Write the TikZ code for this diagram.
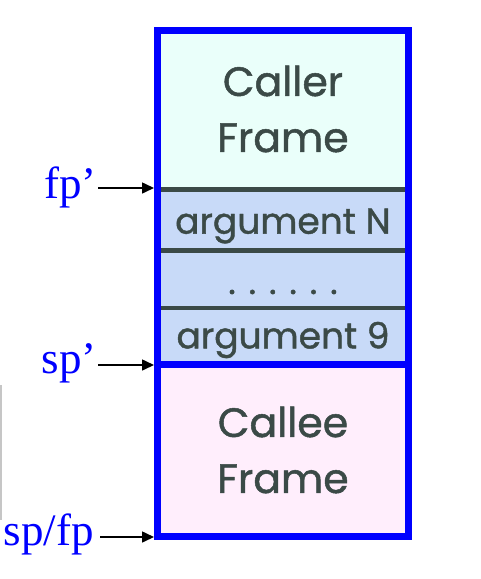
\documentclass[tikz,border=0pt]{standalone}
\usepackage{fontspec}
\setmainfont{Liberation Serif}
\newfontfamily\boxfont[FakeBold=1.2]{Poppins}
\usetikzlibrary{arrows.meta}
\definecolor{framecol}{RGB}{0,0,255}
\definecolor{divcol}{RGB}{59,74,71}
\definecolor{callercol}{RGB}{234,255,250}
\definecolor{argcol}{RGB}{200,218,248}
\definecolor{calleecol}{RGB}{255,238,252}
\tikzset{
  boxtext/.style={text=divcol, font=\boxfont\fontsize{36}{42}\selectfont, align=center, inner sep=0pt},
  bigtext/.style={text=divcol, font=\boxfont\fontsize{41}{56}\selectfont, align=center, inner sep=0pt},
  ptrlabel/.style={text=framecol, font=\fontsize{45}{46}\selectfont, inner sep=0pt, anchor=base east},
  ptrarrow/.style={-{Triangle[length=12pt,width=11pt]}, line width=1.6pt, black},
  divider/.style={divcol, line width=4.5pt},
}
\begin{document}
\begin{tikzpicture}[x=1pt,y=-1pt]
\useasboundingbox (0,0) rectangle (481,579);
% fills
\fill[callercol] (157.5,30) rectangle (408.5,189.5);
\fill[argcol] (157.5,189.5) rectangle (408.5,364.5);
\fill[calleecol] (157.5,364.5) rectangle (408.5,536.5);
% dividers
\draw[divider] (157.5,189.5) -- (408.5,189.5);
\draw[divider] (157.5,250.5) -- (408.5,250.5);
\draw[divider] (157.5,308) -- (408.5,308);
\draw[framecol, line width=7pt] (157.5,364.5) -- (408.5,364.5);
\draw[framecol, line width=7pt] (157.5,30) rectangle (408.5,536.5);
% texts
\node[bigtext] (caller) at (283,109) {Caller\\Frame};
\node[boxtext] (argN) at (283,226) {argument N};
\node[boxtext] (dots) at (283,292) {. . . . . .};
\node[boxtext] (arg9) at (283,340) {argument 9};
\node[bigtext] (callee) at (283,450) {Callee\\Frame};
% pointer anchors
\coordinate (fpA) at (154,188);
\coordinate (spA) at (154,365);
\coordinate (spfpA) at (154,537);
\node[ptrlabel] (fp) at (97,198) {fp’};
\node[ptrlabel] (sp) at (97,373) {sp’};
\node[ptrlabel] (spfp) at (94,545) {sp/fp};
\draw[ptrarrow] (fp.east |- fpA) ++(1,0) -- (fpA);
\draw[ptrarrow] (sp.east |- spA) ++(1,0) -- (spA);
\draw[ptrarrow] (spfp.east |- spfpA) ++(6,0) -- (spfpA);
% faint gray edge line
\draw[gray!45, line width=1.5pt] (1,385) -- (1,520);
\end{tikzpicture}
\end{document}
